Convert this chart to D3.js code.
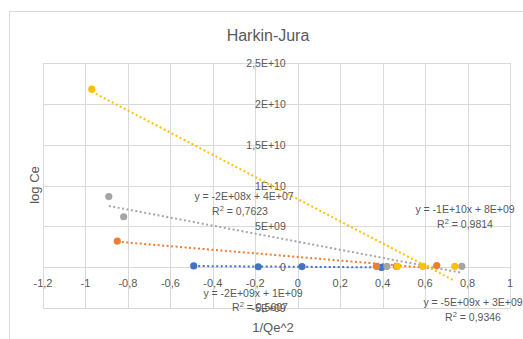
<!DOCTYPE html>
<html>
<head>
<meta charset="utf-8">
<script src="https://cdn.jsdelivr.net/npm/d3@7"></script>
<style>
  body { margin: 0; background: #fff; }
  text { font-family: "Liberation Sans", Arial, sans-serif; fill: #595959; }
</style>
</head>
<body>
<svg id="chart" width="523" height="339"></svg>
<script>
const title = 'Harkin-Jura';
const xTitle = '1/Qe^2';
const yTitle = 'log Ce';

const xTicks = [-1.2, -1, -0.8, -0.6, -0.4, -0.2, 0, 0.2, 0.4, 0.6, 0.8, 1];
const yTicks = [-5e9, 0, 5e9, 1e10, 1.5e10, 2e10, 2.5e10];
const yTickLabels = ['-5E+09', '0', '5E+09', '1E+10', '1,5E+10', '2E+10', '2,5E+10'];

const seriesColors = ['#4472C4', '#ED7D31', '#A5A5A5', '#FFC000'];
const xs1 = [-0.49, -0.186, 0.02, 0.395];
const ys1 = [1.5e8, 5e7, 7e7, -3e7];
const xs2 = [-0.85, 0.371, 0.465, 0.655];
const ys2 = [3.2e9, 1e8, 1e8, 2e8];
const xs3 = [-0.89, -0.82, 0.42, 0.773];
const ys3 = [8.64e9, 6.17e9, 1e8, 1e8];
const xs4 = [-0.97, 0.47, 0.59, 0.74];
const ys4 = [2.18e10, 1e8, 1e8, 1e8];

const eqLabels = ['y = -2E+08x + 4E+07', 'y = -2E+09x + 1E+09', 'y = -5E+09x + 3E+09', 'y = -1E+10x + 8E+09'];
const r2Labels = ['0,7623', '0,5607', '0,9346', '0,9814'];

const xsAll = [xs1, xs2, xs3, xs4];
const ysAll = [ys1, ys2, ys3, ys4];

const svg = d3.select('#chart');

// chart frame
svg.append('rect')
  .attr('x', 9.5).attr('y', 11.5)
  .attr('width', 600).attr('height', 400)
  .attr('fill', 'none').attr('stroke', '#D9D9D9');

const x = d3.scaleLinear().domain([-1.2, 1]).range([43, 510]);
const y = d3.scaleLinear().domain([-5e9, 2.5e10]).range([308, 63]);

// grid
svg.append('g').selectAll('line')
  .data(xTicks).enter().append('line')
  .attr('x1', d => Math.round(x(d)) + 0.5).attr('x2', d => Math.round(x(d)) + 0.5)
  .attr('y1', y(-5e9)).attr('y2', y(2.5e10))
  .attr('stroke', '#D9D9D9');
svg.append('g').selectAll('line')
  .data(yTicks).enter().append('line')
  .attr('y1', d => Math.round(y(d)) + 0.5).attr('y2', d => Math.round(y(d)) + 0.5)
  .attr('x1', x(-1.2)).attr('x2', x(1))
  .attr('stroke', '#D9D9D9');

// tick labels
const fmtX = d => String(d).replace('.', ',');
svg.append('g').selectAll('text')
  .data(xTicks).enter().append('text')
  .attr('x', d => x(d)).attr('y', 287)
  .attr('text-anchor', 'middle').attr('font-size', 11)
  .text(fmtX);
svg.append('g').selectAll('text')
  .data(yTicks).enter().append('text')
  .attr('x', x(0) - 12).attr('y', d => y(d) + 4)
  .attr('text-anchor', 'end').attr('font-size', 10.5)
  .text((d, i) => yTickLabels[i]);

// title & axis titles
svg.append('text').attr('x', 268).attr('y', 41)
  .attr('text-anchor', 'middle').attr('font-size', 16).text(title);
svg.append('text').attr('x', 273).attr('y', 332)
  .attr('text-anchor', 'middle').attr('font-size', 13).text(xTitle);
svg.append('text')
  .attr('transform', 'translate(39,185) rotate(-90)')
  .attr('text-anchor', 'middle').attr('font-size', 13).text(yTitle);

// linear trendlines
function fit(xs, ys) {
  const mx = d3.mean(xs), my = d3.mean(ys);
  let sxy = 0, sxx = 0;
  xs.forEach((v, i) => { sxy += (v - mx) * (ys[i] - my); sxx += (v - mx) * (v - mx); });
  const b = sxy / sxx;
  return { b, a: my - b * mx };
}

xsAll.forEach((xs, s) => {
  const ys = ysAll[s];
  const f = fit(xs, ys);
  const [x0, x1] = d3.extent(xs);
  svg.append('line')
    .attr('x1', x(x0)).attr('y1', y(f.a + f.b * x0))
    .attr('x2', x(x1)).attr('y2', y(f.a + f.b * x1))
    .attr('stroke', seriesColors[s])
    .attr('stroke-width', 2)
    .attr('stroke-dasharray', '2,2.5');
});

// points
xsAll.forEach((xs, s) => {
  svg.append('g').selectAll('circle')
    .data(xs.map((v, i) => [v, ysAll[s][i]]))
    .enter().append('circle')
    .attr('cx', d => x(d[0])).attr('cy', d => y(d[1]))
    .attr('r', 3.6)
    .attr('fill', seriesColors[s]);
});

// equation labels
const labelPos = [[244, 200, 240, 215], [253, 297, 260, 311], [473, 306, 473, 321], [465, 213, 465, 228]];
labelPos.forEach((p, s) => {
  svg.append('text').attr('x', p[0]).attr('y', p[1])
    .attr('text-anchor', 'middle').attr('font-size', 10.5).text(eqLabels[s]);
  const t = svg.append('text').attr('x', p[2]).attr('y', p[3])
    .attr('text-anchor', 'middle').attr('font-size', 10.5);
  t.append('tspan').text('R');
  t.append('tspan').attr('dy', -4).attr('font-size', 7.5).text('2');
  t.append('tspan').attr('dy', 4).text(' = ' + r2Labels[s]);
});
</script>
</body>
</html>
